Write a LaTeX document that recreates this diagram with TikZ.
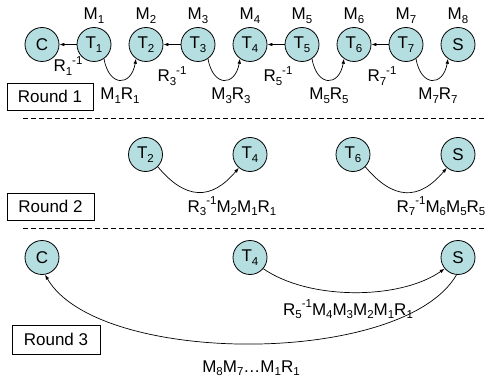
\documentclass[tikz,border=0pt]{standalone}
\usepackage{fontspec}
\setmainfont{Liberation Sans}
\usetikzlibrary{arrows.meta}
\definecolor{nodefill}{RGB}{180,222,224}
\newcommand\lsb[1]{\raisebox{-0.22em}{\fontsize{11.5}{12}\selectfont #1}}
\newcommand\lsp[1]{\raisebox{0.42em}{\fontsize{11.5}{12}\selectfont #1}}
\begin{document}
\begin{tikzpicture}[x=1pt,y=1pt,
  every node/.style={font=\fontsize{17}{20}\selectfont},
  circ/.style={circle,draw,fill=nodefill,minimum size=34pt,inner sep=0pt,line width=0.8pt},
  lbl/.style={anchor=base,inner sep=0pt},
  arr/.style={-{Latex[length=5pt,width=3.6pt]},line width=0.7pt},
  roundbox/.style={draw,line width=0.8pt,inner sep=0pt},
  sep/.style={dashed,dash pattern=on 5pt off 3pt,line width=0.9pt}]
\useasboundingbox (0,0) rectangle (487,-377);
% ---------- Round 1 ----------
\node[circ] (c1) at (42,-44.5) {C};
\node[circ] (t1) at (94,-44.5) {T\lsb{1}};
\node[circ] (t2) at (146,-44.5) {T\lsb{2}};
\node[circ] (t3) at (198,-44.5) {T\lsb{3}};
\node[circ] (t4) at (250,-44.5) {T\lsb{4}};
\node[circ] (t5) at (302,-44.5) {T\lsb{5}};
\node[circ] (t6) at (354,-44.5) {T\lsb{6}};
\node[circ] (t7) at (406,-44.5) {T\lsb{7}};
\node[circ] (s1) at (458,-44.5) {S};
\node[lbl] (m1) at (94,-20) {M\lsb{1}};
\node[lbl] (m2) at (146,-20) {M\lsb{2}};
\node[lbl] (m3) at (198,-20) {M\lsb{3}};
\node[lbl] (m4) at (250,-20) {M\lsb{4}};
\node[lbl] (m5) at (302,-20) {M\lsb{5}};
\node[lbl] (m6) at (354,-20) {M\lsb{6}};
\node[lbl] (m7) at (406,-20) {M\lsb{7}};
\node[lbl] (m8) at (458,-20) {M\lsb{8}};
\draw[arr] (t1) -- (c1);
\draw[arr] (t3) -- (t2);
\draw[arr] (t5) -- (t4);
\draw[arr] (t7) -- (t6);
\draw[arr] (t1.-55) to[out=-80,in=-100,looseness=2.3] (t2.-125);
\draw[arr] (t3.-55) to[out=-80,in=-100,looseness=2.3] (t4.-125);
\draw[arr] (t5.-55) to[out=-80,in=-100,looseness=2.3] (t6.-125);
\draw[arr] (t7.-55) to[out=-80,in=-100,looseness=2.3] (s1.-125);
\node[lbl] (r1) at (68,-72) {R\lsb{1}\lsp{-1}};
\node[lbl] (r3) at (172,-82) {R\lsb{3}\lsp{-1}};
\node[lbl] (r5) at (278,-82) {R\lsb{5}\lsp{-1}};
\node[lbl] (r7) at (382,-82) {R\lsb{7}\lsp{-1}};
\node[lbl] (mr1) at (120,-100) {M\lsb{1}R\lsb{1}};
\node[lbl] (mr3) at (231,-100) {M\lsb{3}R\lsb{3}};
\node[lbl] (mr5) at (329,-100) {M\lsb{5}R\lsb{5}};
\node[lbl] (mr7) at (438,-100) {M\lsb{7}R\lsb{7}};
\node[roundbox,minimum width=86pt,minimum height=27pt] (box1) at (50,-96.5) {Round 1};
\draw[sep] (23,-118) -- (487,-118);
% ---------- Round 2 ----------
\node[circ] (b2) at (145.5,-154.5) {T\lsb{2}};
\node[circ] (b4) at (250,-154.5) {T\lsb{4}};
\node[circ] (b6) at (353,-154.5) {T\lsb{6}};
\node[circ] (bs) at (458,-154.5) {S};
\draw[arr] (b2.-45) to[out=-50,in=-130,looseness=1.36] (b4.-130);
\draw[arr] (b6.-45) to[out=-50,in=-130,looseness=1.36] (bs.-130);
\node[lbl] (l2a) at (232,-212) {R\lsb{3}\lsp{-1}M\lsb{2}M\lsb{1}R\lsb{1}};
\node[lbl] (l2b) at (441,-212) {R\lsb{7}\lsp{-1}M\lsb{6}M\lsb{5}R\lsb{5}};
\node[roundbox,minimum width=87pt,minimum height=27pt] (box2) at (50.5,-206.5) {Round 2};
\draw[sep] (23,-228) -- (487,-228);
% ---------- Round 3 ----------
\node[circ] (cc) at (42,-257.5) {C};
\node[circ] (c4) at (250,-257.5) {T\lsb{4}};
\node[circ] (cs) at (458,-257.5) {S};
\draw[arr] (c4.-40) to[out=-35,in=-145,out distance=55pt,in distance=55pt] (cs.-140);
\draw[arr] (cs.-95) to[out=-120,in=-60,out distance=106pt,in distance=106pt] (cc.-80);
\node[lbl] (l3a) at (348,-315) {R\lsb{5}\lsp{-1}M\lsb{4}M\lsb{3}M\lsb{2}M\lsb{1}R\lsb{1}};
\node[lbl] (l3b) at (251,-372) {M\lsb{8}M\lsb{7}\ldots M\lsb{1}R\lsb{1}};
\node[roundbox,minimum width=88pt,minimum height=29pt] (box3) at (56,-339.5) {Round 3};
\end{tikzpicture}
\end{document}
